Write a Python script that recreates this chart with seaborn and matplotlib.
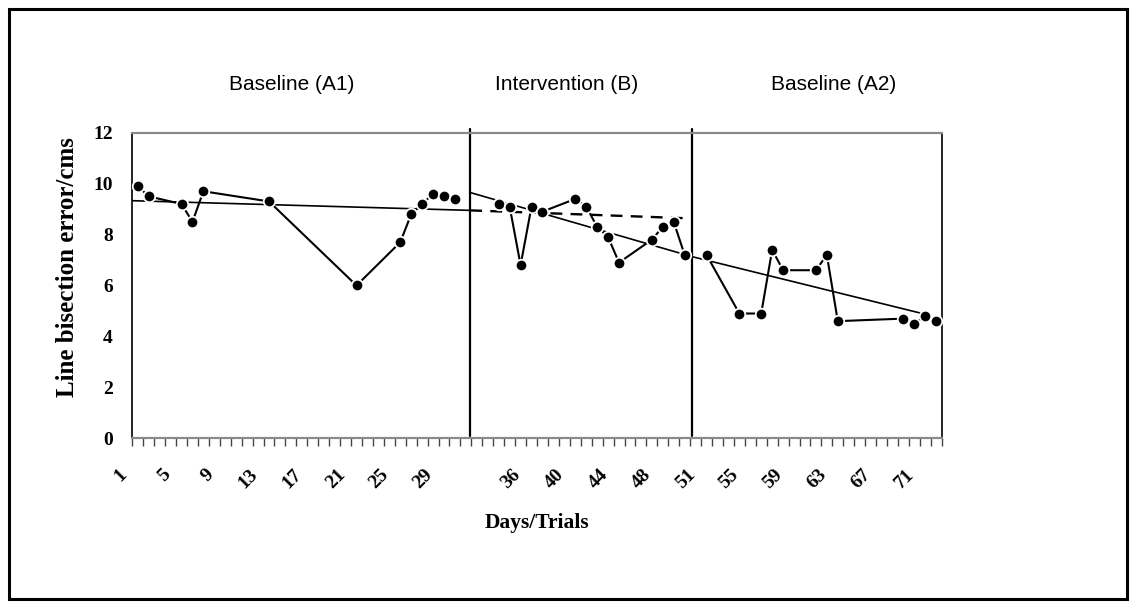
import numpy as np
import pandas as pd
import matplotlib
matplotlib.use("Agg")
import matplotlib.pyplot as plt
import matplotlib.transforms as mtransforms
from matplotlib.patches import Rectangle
import seaborn as sns

# ---- data: session slot (category position) and line bisection error ----
slot_a1 = [0, 1, 4, 5, 6, 12, 20, 24, 25, 26, 27, 28, 29]
err_a1 = [9.9, 9.5, 9.2, 8.5, 9.7, 9.3, 6.0, 7.7, 8.8, 9.2, 9.6, 9.5, 9.4]

slot_b = [33, 34, 35, 36, 37, 40, 41, 42, 43, 44, 47, 48, 49, 50]
err_b = [9.2, 9.1, 6.8, 9.1, 8.9, 9.4, 9.1, 8.3, 7.9, 6.9, 7.8, 8.3, 8.5, 7.2]

slot_a2 = [52, 55, 57, 58, 59, 62, 63, 64, 70, 71, 72, 73]
err_a2 = [7.2, 4.9, 4.9, 7.4, 6.6, 6.6, 7.2, 4.6, 4.7, 4.5, 4.8, 4.6]

# trend lines (start/end slot, start/end value)
trend_a1_slot = [-0.5, 30.4]
trend_a1_val = [9.33, 8.95]
proj_a1_slot = [30.4, 50.2]
proj_a1_val = [8.95, 8.64]
trend_b_slot = [30.4, 50.7]
trend_b_val = [9.65, 7.13]
trend_a2_slot = [50.7, 72.0]
trend_a2_val = [7.13, 4.87]

phase_change_slots = [30.4, 50.7]
phase_names = ["Baseline (A1)", "Intervention (B)", "Baseline (A2)"]
phase_name_slots = [14.1, 39.2, 63.6]

n_slots = 74
label_slots = list(range(0, 73, 4))
label_text = ["1", "5", "9", "13", "17", "21", "25", "29", "", "36",
              "40", "44", "48", "51", "55", "59", "63", "67", "71"]

# ---- build long table ----
df = pd.concat([
    pd.DataFrame({"slot": slot_a1, "err": err_a1, "phase": "A1"}),
    pd.DataFrame({"slot": slot_b, "err": err_b, "phase": "B"}),
    pd.DataFrame({"slot": slot_a2, "err": err_a2, "phase": "A2"}),
], ignore_index=True)

sns.set_style("white")
plt.rcParams["font.family"] = ["Liberation Serif", "DejaVu Serif"]
plt.rcParams.update({"text.color": "black", "axes.labelcolor": "black",
                     "xtick.color": "black", "ytick.color": "black"})

W, H, DPI = 1136, 608, 100
fig = plt.figure(figsize=(W / DPI, H / DPI), dpi=DPI)
ax = fig.add_axes([132.3 / W, 1 - 438.3 / H, (941.7 - 132.3) / W, (438.3 - 132.7) / H])

# phase change lines
for s in phase_change_slots:
    ax.plot([s, s], [0.1, 12.15], color="black", lw=1.6, clip_on=False, zorder=2)

# trend lines
for xs, ys in [(trend_a1_slot, trend_a1_val), (trend_b_slot, trend_b_val),
               (trend_a2_slot, trend_a2_val)]:
    sns.lineplot(x=xs, y=ys, ax=ax, color="black", lw=1.2, zorder=3)
sns.lineplot(x=proj_a1_slot, y=proj_a1_val, ax=ax, color="black", lw=1.7,
             dashes=False, zorder=3).lines[-1].set_dashes([5, 3.5])

# observations, one unbroken line per phase
sns.lineplot(data=df, x="slot", y="err", units="phase", estimator=None,
             sort=False, ax=ax, color="black", lw=1.5, marker="o",
             markersize=8.3, markeredgecolor="white", markeredgewidth=1.3,
             zorder=4)

ax.set_xlim(-0.5, n_slots - 0.5)
ax.set_ylim(0, 12)

# spines
for side in ["left", "right"]:
    ax.spines[side].set_color("black")
    ax.spines[side].set_linewidth(1.2)
for side in ["top", "bottom"]:
    ax.spines[side].set_color("#8a8a8a")
    ax.spines[side].set_linewidth(1.6)

# y axis
ax.set_yticks(np.arange(0, 13, 2))
ax.set_yticklabels([str(v) for v in range(0, 13, 2)],
                   fontsize=14, fontweight="bold")
ax.tick_params(axis="y", which="major", length=0, pad=14)
ax.set_yticks([0, 12], minor=True)
ax.tick_params(axis="y", which="minor", length=6, width=1.2, color="#8a8a8a",
               direction="out", left=True)

# x axis: tick marks between categories, labels on every fourth category
ax.set_xticks(np.arange(-0.5, n_slots, 1.0))
ax.set_xticklabels([])
ax.tick_params(axis="x", which="major", length=5.5, width=1.0, color="#444444",
               direction="out", bottom=True)
ax.set_xticks(label_slots, minor=True)
ax.set_xticklabels(label_text, minor=True, fontsize=14, fontweight="bold",
                   rotation=45, ha="right", va="top")
ax.tick_params(axis="x", which="minor", length=0, pad=20)
shift = mtransforms.ScaledTranslation(-8 / DPI, 0, fig.dpi_scale_trans)
for lab in ax.get_xticklabels(minor=True):
    lab.set_transform(lab.get_transform() + shift)

ax.set_xlabel("Days/Trials", fontsize=15.5, fontweight="bold")
ax.xaxis.set_label_coords(0.5, -0.245)
ax.set_ylabel("Line bisection error/cms", fontsize=18, fontweight="bold")
ax.yaxis.set_label_coords(-0.066, 0.56)

# phase titles
blend = mtransforms.blended_transform_factory(ax.transData, ax.transAxes)
for name, s in zip(phase_names, phase_name_slots):
    ax.text(s, 1.159, name, transform=blend, ha="center", va="center",
            fontsize=15, family=["Liberation Sans", "DejaVu Sans"])

ax.grid(False)

# outer frame
fig.patches.append(Rectangle((9 / W, 9 / H), 1 - 18 / W, 1 - 18 / H,
                             transform=fig.transFigure, fill=False,
                             edgecolor="black", linewidth=2.2))

fig.savefig("out.png", dpi=DPI)
